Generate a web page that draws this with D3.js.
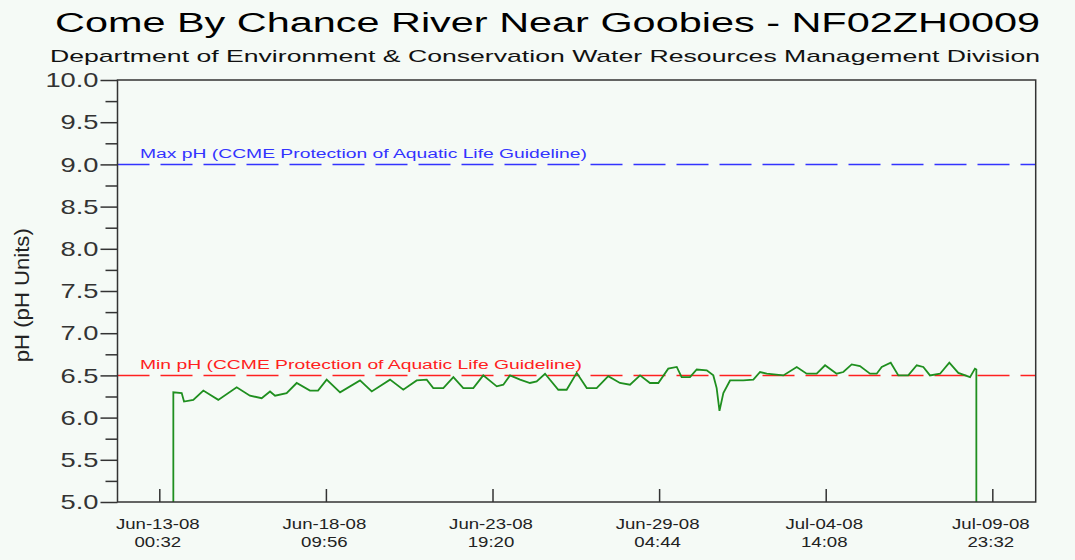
<!DOCTYPE html>
<html>
<head>
<meta charset="utf-8">
<script src="https://cdn.jsdelivr.net/npm/d3@7"></script>
<style>
body { margin: 0; background: #f5faf6; }
svg { display: block; font-family: "Liberation Sans", Arial, sans-serif; }
</style>
</head>
<body>
<div id="chart"></div>
<script>
// chart text
let chartTitle = "Come By Chance River Near Goobies - NF02ZH0009";
let chartSubtitle = "Department of Environment & Conservation Water Resources Management Division";
let yLabel = "pH (pH Units)";

// axis range + ticks
let timeDomain = ["2008-06-11 16:04", "2008-07-11 09:14"];
let phDomain = [5, 10];
let xTickTimes = ["2008-06-13 00:32", "2008-06-18 09:56", "2008-06-23 19:20",
  "2008-06-29 04:44", "2008-07-04 14:08", "2008-07-09 23:32"];

// guideline values
let guideValues = [9.0, 6.5];
let guideLabels = ["Max pH (CCME Protection of Aquatic Life Guideline)",
  "Min pH (CCME Protection of Aquatic Life Guideline)"];

// pH readings
let times = [
  "2008-06-13 11:26", "2008-06-13 11:26", "2008-06-13 17:56", "2008-06-13 19:44", "2008-06-14 02:56",
  "2008-06-14 10:44", "2008-06-14 22:20", "2008-06-15 12:38", "2008-06-15 22:56", "2008-06-16 08:02",
  "2008-06-16 14:32", "2008-06-16 18:26", "2008-06-17 03:26", "2008-06-17 11:14", "2008-06-17 21:32",
  "2008-06-18 03:50", "2008-06-18 10:32", "2008-06-18 20:56", "2008-06-19 12:26", "2008-06-19 21:32",
  "2008-06-20 11:44", "2008-06-20 22:02", "2008-06-21 08:26", "2008-06-21 16:14", "2008-06-21 21:20",
  "2008-06-22 05:08", "2008-06-22 12:56", "2008-06-22 20:38", "2008-06-23 04:26", "2008-06-23 12:08",
  "2008-06-23 22:38", "2008-06-24 03:44", "2008-06-24 08:56", "2008-06-24 16:44", "2008-06-25 00:26",
  "2008-06-25 05:38", "2008-06-25 12:08", "2008-06-25 22:26", "2008-06-26 04:56", "2008-06-26 12:44",
  "2008-06-26 20:32", "2008-06-27 04:14", "2008-06-27 13:14", "2008-06-27 22:20", "2008-06-28 06:08",
  "2008-06-28 13:56", "2008-06-28 21:38", "2008-06-29 04:08", "2008-06-29 11:50", "2008-06-29 18:26",
  "2008-06-29 22:14", "2008-06-30 04:44", "2008-06-30 09:56", "2008-06-30 17:44", "2008-06-30 22:50",
  "2008-07-01 01:26", "2008-07-01 03:38", "2008-07-01 06:38", "2008-07-01 11:50", "2008-07-01 22:08",
  "2008-07-02 05:56", "2008-07-02 11:08", "2008-07-02 16:20", "2008-07-03 05:14", "2008-07-03 15:38",
  "2008-07-03 23:20", "2008-07-04 07:08", "2008-07-04 13:38", "2008-07-04 22:38", "2008-07-05 03:50",
  "2008-07-05 10:20", "2008-07-05 16:44", "2008-07-06 00:32", "2008-07-06 05:44", "2008-07-06 09:38",
  "2008-07-06 16:38", "2008-07-06 22:32", "2008-07-07 06:14", "2008-07-07 12:50", "2008-07-07 17:56",
  "2008-07-07 23:08", "2008-07-08 06:56", "2008-07-08 14:08", "2008-07-08 21:08", "2008-07-09 06:14",
  "2008-07-09 10:02", "2008-07-09 11:08", "2008-07-09 11:08"
];
let phValues = [
  5.00, 6.30, 6.29, 6.19, 6.21,
  6.32, 6.21, 6.36, 6.26, 6.23,
  6.31, 6.26, 6.29, 6.41, 6.32,
  6.32, 6.45, 6.30, 6.44, 6.31,
  6.45, 6.33, 6.44, 6.45, 6.35,
  6.35, 6.48, 6.35, 6.35, 6.50,
  6.37, 6.39, 6.50, 6.45, 6.41,
  6.43, 6.52, 6.33, 6.33, 6.53,
  6.35, 6.35, 6.49, 6.41, 6.39,
  6.50, 6.41, 6.41, 6.58, 6.60,
  6.48, 6.48, 6.57, 6.56, 6.50,
  6.35, 6.08, 6.29, 6.44, 6.44,
  6.45, 6.54, 6.52, 6.50, 6.60,
  6.52, 6.52, 6.62, 6.52, 6.54,
  6.63, 6.61, 6.52, 6.52, 6.60,
  6.65, 6.50, 6.50, 6.62, 6.60,
  6.50, 6.52, 6.65, 6.53, 6.48,
  6.58, 6.57, 5.00
];

let width = 1075, height = 560;
let margin = {top: 80, right: 39.3, bottom: 58, left: 117.5};
let guideColors = ["#3333ff", "#ff2020"];

let parse = d3.timeParse("%Y-%m-%d %H:%M");
let data = times.map((t, i) => ({t: parse(t), v: phValues[i]}));

// the original render is wide: stretch text glyphs sideways
function stretch(sel, k) {
  sel.each(function() {
    let w = this.getComputedTextLength();
    d3.select(this).attr("textLength", w * k).attr("lengthAdjust", "spacingAndGlyphs");
  });
}

let svg = d3.select("#chart")
.append("svg")
.attr("width", width)
.attr("height", height);

svg.append("rect").attr("width", width).attr("height", height).attr("fill", "#f5faf6");

let x = d3.scaleTime()
.domain(timeDomain.map(parse))
.range([margin.left, width - margin.right]);

let y = d3.scaleLinear()
.domain(phDomain)
.range([height - margin.bottom, margin.top]);

// titles
svg.append("text")
.attr("x", 55).attr("y", 32)
.attr("font-size", 27)
.attr("textLength", 985).attr("lengthAdjust", "spacingAndGlyphs")
.attr("fill", "#000")
.text(chartTitle);

svg.append("text")
.attr("x", 50).attr("y", 62)
.attr("font-size", 17)
.attr("textLength", 990).attr("lengthAdjust", "spacingAndGlyphs")
.attr("fill", "#111")
.text(chartSubtitle);

svg.append("text")
.attr("transform", "translate(29," + (y(7.45)) + ") rotate(-90)")
.attr("text-anchor", "middle")
.attr("font-size", 20)
.attr("textLength", 134).attr("lengthAdjust", "spacingAndGlyphs")
.attr("fill", "#222")
.text(yLabel);

// clip for the series
svg.append("defs").append("clipPath").attr("id", "plot")
.append("rect")
.attr("x", margin.left).attr("y", margin.top)
.attr("width", width - margin.left - margin.right)
.attr("height", height - margin.top - margin.bottom);

// guidelines
let guides = svg.append("g").selectAll("g")
.data(guideValues)
.enter().append("g");

guides.append("line")
.attr("x1", margin.left).attr("x2", width - margin.right)
.attr("y1", d => y(d)).attr("y2", d => y(d))
.attr("stroke", (d, i) => guideColors[i])
.attr("stroke-width", 1.5)
.attr("stroke-dasharray", "32,11");

guides.append("text")
.attr("x", 140)
.attr("y", d => y(d) - 6)
.attr("font-size", 12)
.attr("textLength", (d, i) => i === 0 ? 447 : 442)
.attr("lengthAdjust", "spacingAndGlyphs")
.attr("fill", (d, i) => guideColors[i])
.text((d, i) => guideLabels[i]);

// series
let line = d3.line()
.x(d => x(d.t))
.y(d => y(d.v));

svg.append("path")
.datum(data)
.attr("clip-path", "url(#plot)")
.attr("fill", "none")
.attr("stroke", "#1f8f1f")
.attr("stroke-width", 1.8)
.attr("d", line);

// y axis: major + minor ticks
let yAxis = svg.append("g")
.attr("transform", "translate(" + margin.left + ",0)")
.call(d3.axisLeft(y)
  .tickValues(d3.range(phDomain[0], phDomain[1] + 0.01, 0.5))
  .tickSize(17)
  .tickPadding(2)
  .tickFormat(d3.format(".1f")));

yAxis.select(".domain").remove();
yAxis.selectAll("line").attr("stroke", "#333").attr("stroke-width", 1.5);
yAxis.selectAll("text")
.attr("font-size", 21)
.attr("fill", "#333")
.attr("font-family", "Liberation Sans, Arial, sans-serif")
.call(stretch, 1.3);

let yMinor = svg.append("g")
.attr("transform", "translate(" + margin.left + ",0)")
.call(d3.axisLeft(y)
  .tickValues(d3.range(phDomain[0] + 0.25, phDomain[1], 0.5))
  .tickSize(12)
  .tickFormat(""));
yMinor.select(".domain").remove();
yMinor.selectAll("line").attr("stroke", "#333").attr("stroke-width", 1.5);

// x axis ticks (pointing up)
let xAxis = svg.append("g")
.attr("transform", "translate(0," + y(phDomain[0]) + ")")
.call(d3.axisBottom(x)
  .tickValues(xTickTimes.map(parse))
  .tickSize(-13)
  .tickFormat(""));
xAxis.select(".domain").remove();
xAxis.selectAll("line").attr("stroke", "#333").attr("stroke-width", 1.5);

let fmtDate = d3.timeFormat("%b-%d-%y");
let fmtTime = d3.timeFormat("%H:%M");
let ticks = xAxis.selectAll(".tick");
ticks.append("text").attr("y", 27).text(d => fmtDate(d));
ticks.append("text").attr("y", 45).text(d => fmtTime(d));
ticks.selectAll("text")
.attr("x", -2)
.attr("fill", "#222")
.attr("font-size", 14)
.attr("text-anchor", "middle")
.attr("font-family", "Liberation Sans, Arial, sans-serif")
.call(stretch, 1.33);

// frame
svg.append("rect")
.attr("x", margin.left).attr("y", margin.top)
.attr("width", width - margin.left - margin.right)
.attr("height", height - margin.top - margin.bottom)
.attr("fill", "none")
.attr("stroke", "#333")
.attr("stroke-width", 1.5);
</script>
</body>
</html>
